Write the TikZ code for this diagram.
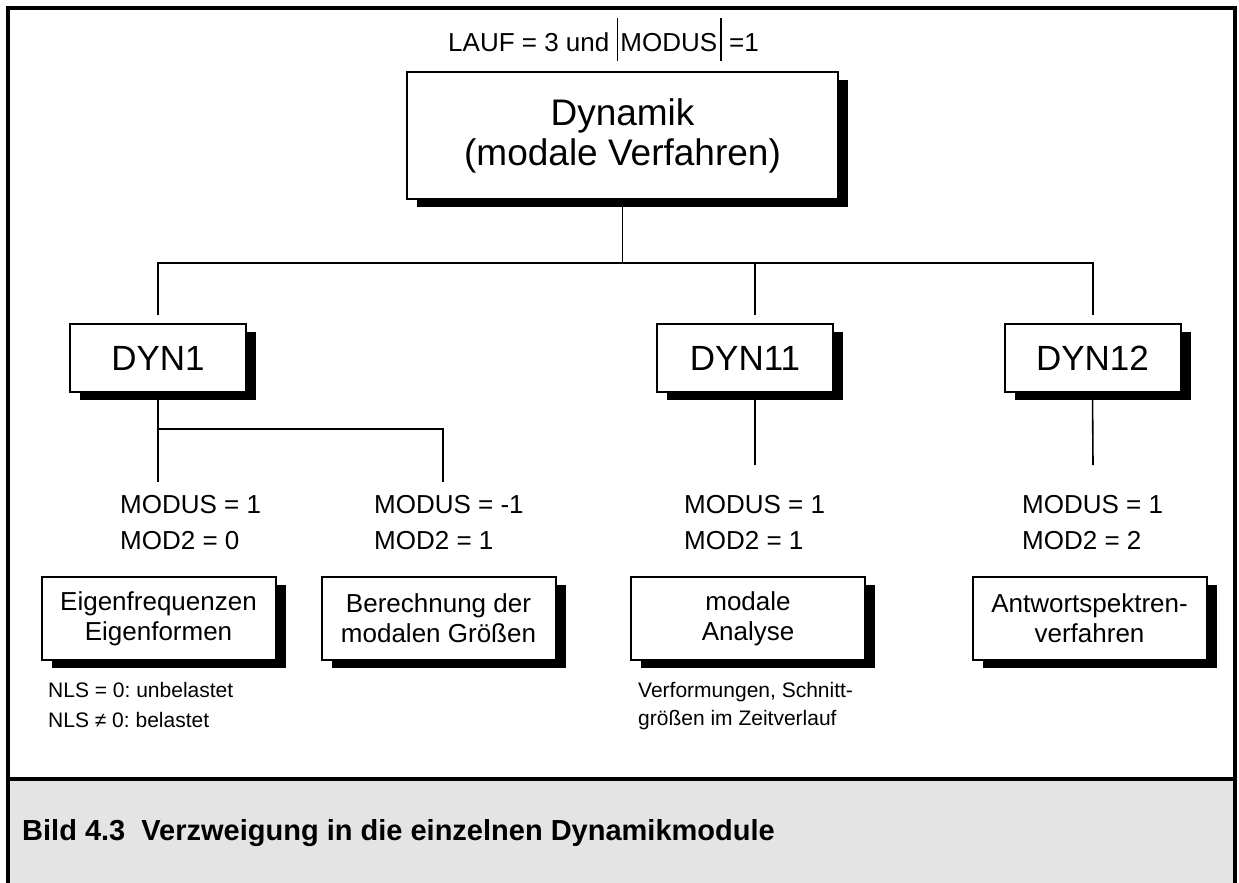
\documentclass[tikz,border=0pt]{standalone}
\usepackage{fontspec}
\setmainfont{Liberation Sans}
\usetikzlibrary{shadows}
\definecolor{capgray}{HTML}{E4E4E4}
\frenchspacing
\begin{document}
\begin{tikzpicture}[x=1pt,y=-1pt,
  frame/.style={line width=4pt},
  conn/.style={line width=1.6pt},
  shbox/.style={draw, line width=2pt, fill=white, inner sep=0pt, align=center,
    general shadow={fill=black, shadow xshift=10pt, shadow yshift=-8pt}},
  bigbox/.style={shbox, minimum width=431pt, minimum height=127pt,
    font=\fontsize{37}{40}\selectfont},
  dynbox/.style={shbox, minimum width=176pt, minimum height=68pt,
    font=\fontsize{35}{36}\selectfont},
  modbox/.style={shbox, minimum width=234pt, minimum height=83pt,
    font=\fontsize{26}{30}\selectfont},
  cond/.style={anchor=base west, inner sep=0pt, font=\fontsize{26}{30}\selectfont},
  note/.style={anchor=base west, inner sep=0pt, font=\fontsize{21}{25}\selectfont},
  caption/.style={anchor=base west, inner sep=0pt, font=\bfseries\fontsize{29}{34}\selectfont}]
\useasboundingbox (0,0) rectangle (1239,883);

% caption band and frame
\fill[capgray] (8,779) rectangle (1235,885);
\draw[frame] (8,886) -- (8,8) -- (1235,8) -- (1235,886);
\draw[frame] (8,779) -- (1235,779);
\node[caption] (cap) at (22,840) {Bild 4.3\ \ Verzweigung in die einzelnen Dynamikmodule};

% start condition
\node[anchor=base west, inner sep=0pt, font=\fontsize{26}{30}\selectfont] (lauf) at (448,52)
  {LAUF = 3 und \rule[-9pt]{1.8pt}{43pt}\kern2pt MODUS\kern3pt\rule[-9pt]{1.8pt}{43pt} =1};

% main module
\node[bigbox] (dyn) at (622.5,135.5) {Dynamik\\(modale Verfahren)};

% sub-modules
\node[dynbox] (d1)  at (158,358)    {DYN1};
\node[dynbox] (d11) at (745,358)    {DYN11};
\node[dynbox] (d12) at (1092.5,358) {DYN12};

% branching from the main module
\coordinate (j0)  at (622.5,263);
\coordinate (ja)  at (158,263);
\coordinate (jb)  at (755,263);
\coordinate (jc)  at (1093,263);
\coordinate (t1)  at (158,315);
\coordinate (t11) at (755,315);
\coordinate (t12) at (1093,315);
\draw[conn] (dyn.south) -- (j0);
\draw[conn] (t1) -- (ja) -- (jc) -- (t12);
\draw[conn] (jb) -- (t11);

% branching below the sub-modules
\coordinate (j1)  at (158,429);
\coordinate (b1)  at (158,482);
\coordinate (b2)  at (443,482);
\coordinate (s11) at (755,393);
\coordinate (b11) at (755,465);
\coordinate (b12) at (1093,465);
\draw[conn] (d1.south) -- (b1);
\draw[conn] (j1) -| (b2);
\draw[conn] (s11) -- (b11);
\draw[conn] (d12.south) -- (b12);

% switch values
\node[cond] (m1a) at (120,513)  {MODUS = 1};
\node[cond] (m1b) at (120,549)  {MOD2 = 0};
\node[cond] (m2a) at (374,513)  {MODUS = -1};
\node[cond] (m2b) at (374,549)  {MOD2 = 1};
\node[cond] (m3a) at (684,513)  {MODUS = 1};
\node[cond] (m3b) at (684,549)  {MOD2 = 1};
\node[cond] (m4a) at (1022,513) {MODUS = 1};
\node[cond] (m4b) at (1022,549) {MOD2 = 2};

% procedures
\node[modbox] (e1) at (158.5,618.5)  {Eigenfrequenzen\\Eigenformen};
\node[modbox] (e2) at (438.5,618.5)  {Berechnung der\\modalen Größen};
\node[modbox] (e3) at (748,618.5)    {modale\\Analyse};
\node[modbox] (e4) at (1089.5,618.5) {Antwortspektren-\\verfahren};

% remarks
\node[note] (n1) at (48,697)  {NLS = 0: unbelastet};
\node[note] (n2) at (48,727)  {NLS ≠ 0: belastet};
\node[note] (n3) at (638,697) {Verformungen, Schnitt-};
\node[note] (n4) at (638,725) {größen im Zeitverlauf};
\end{tikzpicture}
\end{document}
